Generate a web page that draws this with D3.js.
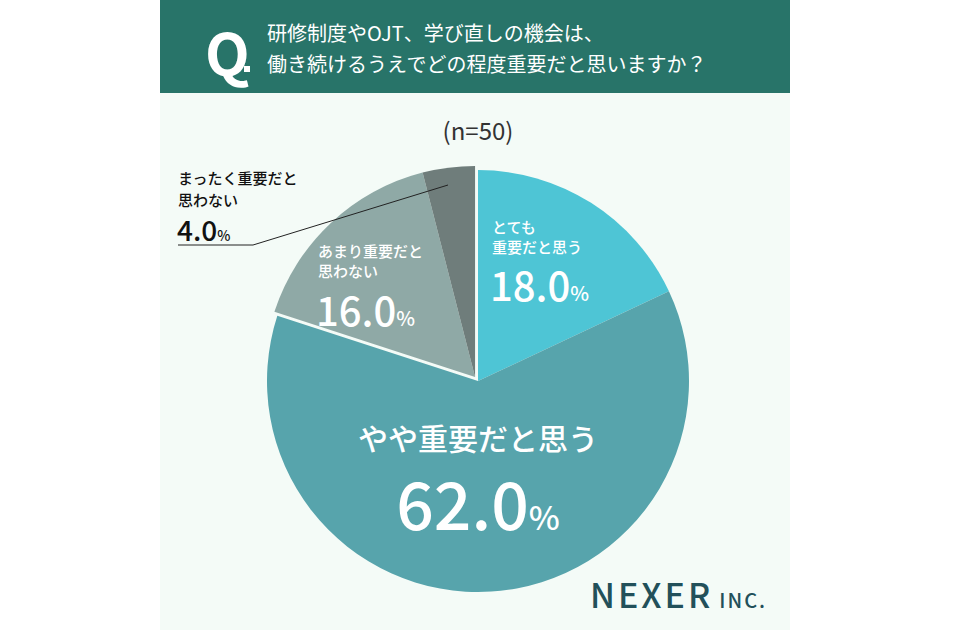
<!DOCTYPE html><html><head><meta charset="utf-8"><script src="https://cdn.jsdelivr.net/npm/d3@7"></script>
<style>body{margin:0;background:#fff}text{font-family:"Noto Sans CJK JP",sans-serif}</style></head><body><svg width="955" height="630"></svg>
<script>
const categories=["とても重要だと思う","やや重要だと思う","あまり重要だと思わない","まったく重要だと思わない"];
const values=[18.0,62.0,16.0,4.0];
const colors=["#4ec5d5","#57a4ac","#8fa9a6","#6f7d7b"];
const svg=d3.select("svg");
svg.append("rect").attr("x",160).attr("y",0).attr("width",630).attr("height",630).attr("fill","#f4fbf7");
svg.append("rect").attr("x",160).attr("y",0).attr("width",630).attr("height",93).attr("fill","#287469");
svg.append("text").attr("x",205).attr("y",76).attr("fill","#fff").attr("font-size",58).attr("font-weight",700).attr("font-family","Roboto").text("Q");
svg.append("rect").attr("x",244).attr("y",66).attr("width",6).attr("height",6).attr("fill","#fff");
svg.append("text").attr("x",267).attr("y",41).attr("fill","#fff").attr("font-size",20).text("研修制度やOJT、学び直しの機会は、");
svg.append("text").attr("x",267).attr("y",72).attr("fill","#fff").attr("font-size",20).text("働き続けるうえでどの程度重要だと思いますか？");
svg.append("text").attr("x",478).attr("y",140).attr("text-anchor","middle").attr("fill","#333").attr("font-size",24).text("(n=50)");
const cx=478,cy=381,r=211;
const pie=d3.pie().sort(null)(values);
const arc=d3.arc().innerRadius(0).outerRadius(r);
const g=svg.append("g").attr("transform",`translate(${cx},${cy})`);
g.selectAll("path").data(pie).join("path").attr("d",arc).attr("fill",(d,i)=>colors[i])
 .attr("transform",(d,i)=>{if(i<2)return "";const a=(pie[2].startAngle+pie[3].endAngle)/2;return `translate(${Math.sin(a)*5},${-Math.cos(a)*5})`;});
function t(x,y,s,size,col,w,anchor){svg.append("text").attr("x",x).attr("y",y).attr("font-size",size).attr("fill",col).attr("font-weight",w||500).attr("text-anchor",anchor||"start").text(s);}
function pct(x,y,v,size,col,anchor){const tx=svg.append("text").attr("x",x).attr("y",y).attr("fill",col).attr("text-anchor",anchor||"start").attr("font-family","Roboto").attr("font-weight",500);tx.append("tspan").attr("font-size",size).text(v.toFixed(1));tx.append("tspan").attr("font-size",size*0.5).text("%");}
t(492,233,"とても",15,"#fff");t(492,253,"重要だと思う",15,"#fff");pct(490,301,values[0],40,"#fff");
t(478,450,"やや重要だと思う",30,"#fff",500,"middle");pct(478,530,values[1],66,"#fff","middle");
t(318,257,"あまり重要だと",15,"#fff");t(318,277,"思わない",15,"#fff");pct(316,326,values[2],40,"#fff");
t(178,184,"まったく重要だと",15,"#111");t(178,206,"思わない",15,"#111");pct(177,241,values[3],28,"#111");
svg.append("polyline").attr("points","178,245 253,245 448,185").attr("fill","none").attr("stroke","#222").attr("stroke-width",1);
const n=svg.append("text").attr("x",590).attr("y",608).attr("fill","#22505a").attr("font-family","Roboto").attr("font-weight",500);
n.append("tspan").attr("font-size",34).attr("letter-spacing",3).text("NEXER");
n.append("tspan").attr("font-size",20).attr("dx",6).attr("letter-spacing",2).text("INC.");
</script></body></html>
